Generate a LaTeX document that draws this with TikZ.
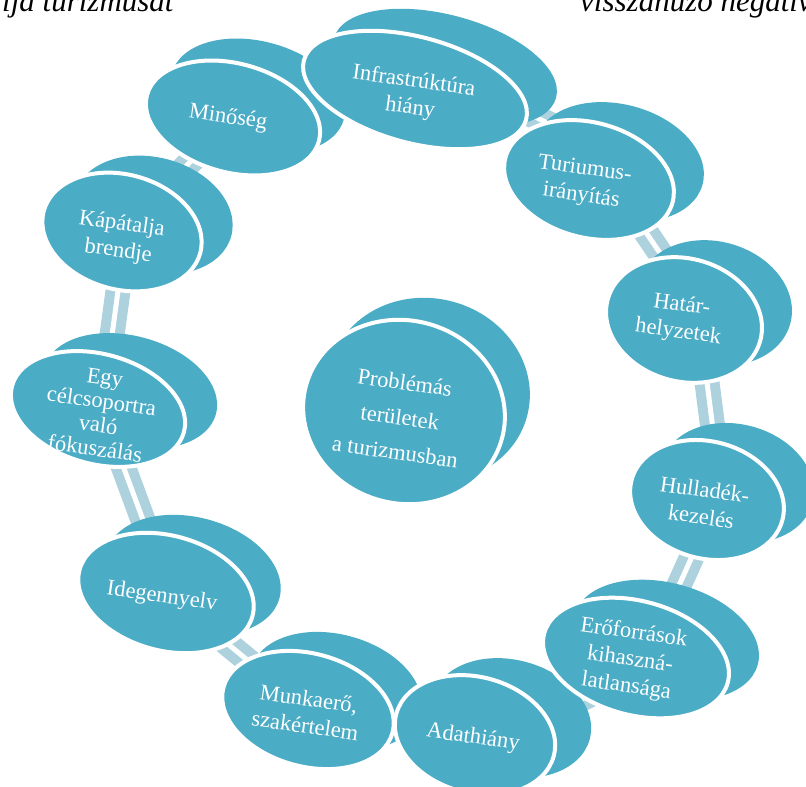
\documentclass[tikz,border=0pt]{standalone}
\usepackage{fontspec}
\setmainfont{Liberation Serif}
\usetikzlibrary{shapes.geometric,calc}
\definecolor{aqua}{RGB}{75,172,198}
\definecolor{conn}{RGB}{173,210,222}
\begin{document}
\begin{tikzpicture}[x=1pt,y=-1pt,
  face/.style={ellipse, fill=aqua, inner sep=0pt, outer sep=0pt, rotate=-15},
  front/.style={face, draw=white, line width=4pt},
  back/.style={face},
  lbl/.style={text=white, align=center, rotate=-8, font=\fontsize{22.5}{27}\selectfont, inner sep=0pt},
  link/.style={draw=conn, line width=10pt, double=white, double distance=5pt},
  toptext/.style={font=\fontsize{31}{36}\selectfont\itshape, inner sep=0pt}
]
\useasboundingbox (0,0) rectangle (806,787);
\clip (0,0) rectangle (806,787);

% centres of the front faces
\coordinate (c1) at (415,90);   % Infrastruktura
\coordinate (c2) at (589,180);  % Turiumus
\coordinate (c3) at (684,320);  % Hatar
\coordinate (c4) at (707,500);  % Hulladek
\coordinate (c5) at (636,658);  % Eroforrasok
\coordinate (c6) at (475,735);  % Adathiany
\coordinate (c7) at (308,710);  % Munkaero
\coordinate (c8) at (166,593);  % Idegennyelv
\coordinate (c9) at (98,409);   % Egy celcsoport
\coordinate (c10) at (122,232); % Kapatalja
\coordinate (c11) at (233,118); % Minoseg
\coordinate (c0) at (404,412);  % centre

% connectors
\draw[link] ($(c1)+(20,-25)$) -- ($(c2)+(20,-25)$);
\draw[link] ($(c2)+(16,-8)$) -- ($(c3)+(16,-8)$);
\draw[link] ($(c3)+(14,-8)$) -- ($(c4)+(14,-8)$);
\draw[link] ($(c4)+(14,-8)$) -- ($(c5)+(14,-8)$);
\draw[link] ($(c5)+(0,15)$) -- ($(c6)+(0,15)$);
\draw[link] (c6) -- (c7);
\draw[link] (c7) -- (c8);
\draw[link] ($(c8)+(4,0)$) -- ($(c9)+(4,0)$);
\draw[link] ($(c9)+(4,0)$) -- ($(c10)+(4,0)$);
\draw[link] (c10) -- (c11);
\draw[link] (c11) -- (c1);

% back faces
\node[back, minimum width=230, minimum height=106] (b1) at ($(c1)+(30,-22)$) {};
\node[back, minimum width=173, minimum height=115] (b2) at ($(c2)+(30,-18)$) {};
\node[back, minimum width=158, minimum height=123] (b3) at ($(c3)+(30,-17)$) {};
\node[back, minimum width=156, minimum height=117] (b4) at ($(c4)+(30,-17)$) {};
\node[back, minimum width=190, minimum height=114] (b5) at ($(c5)+(30,-18)$) {};
\node[back, minimum width=163, minimum height=116] (b6) at ($(c6)+(36,-17)$) {};
\node[back, minimum width=175, minimum height=113] (b7) at ($(c7)+(28,-19)$) {};
\node[back, minimum width=179, minimum height=115] (b8) at ($(c8)+(27,-18)$) {};
\node[back, minimum width=178, minimum height=110] (b9) at ($(c9)+(32,-18)$) {};
\node[back, minimum width=162, minimum height=115] (b10) at ($(c10)+(31,-17)$) {};
\node[back, minimum width=178, minimum height=109] (b11) at ($(c11)+(25,-22)$) {};
\node[back, minimum width=203, minimum height=183] (b0) at ($(c0)+(25,-22)$) {};

% front faces
\node[front, minimum width=230, minimum height=106] (f1) at (c1) {};
\node[front, minimum width=173, minimum height=115] (f2) at (c2) {};
\node[front, minimum width=158, minimum height=123] (f3) at (c3) {};
\node[front, minimum width=156, minimum height=117] (f4) at (c4) {};
\node[front, minimum width=190, minimum height=114] (f5) at (c5) {};
\node[front, minimum width=163, minimum height=116] (f6) at (c6) {};
\node[front, minimum width=175, minimum height=113] (f7) at (c7) {};
\node[front, minimum width=179, minimum height=115] (f8) at (c8) {};
\node[front, minimum width=178, minimum height=110] (f9) at (c9) {};
\node[front, minimum width=162, minimum height=115] (f10) at (c10) {};
\node[front, minimum width=178, minimum height=109] (f11) at (c11) {};
\node[front, minimum width=203, minimum height=183] (f0) at (c0) {};

% labels
\node[lbl] (t1) at (412,95) {Infrastrúktúra\\hiány};
\node[lbl] (t2) at (583,183) {Turiumus-\\irányítás};
\node[lbl] (t3) at (680,319) {Határ-\\helyzetek};
\node[lbl] (t4) at (703,503) {Hulladék-\\kezelés};
\node[lbl] (t5) at (630,660) {Erőforrások\\kihaszná-\\latlansága};
\node[lbl] (t6) at (473,738) {Adathiány};
\node[lbl] (t7) at (307,712) {Munkaerő,\\szakértelem};
\node[lbl] (t8) at (162,597) {Idegennyelv};
\node[lbl, font=\fontsize{22.5}{24}\selectfont] (t9) at (100,413) {Egy\\célcsoportra\\való\\fókuszálás};
\node[lbl] (t10) at (120,238) {Kápátalja\\brendje};
\node[lbl] (t11) at (228,118) {Minőség};
\node[lbl, font=\fontsize{22.5}{35}\selectfont] (t0) at (400,417) {Problémás\\területek\\a turizmusban};

% cut-off text at the top
\node[toptext, anchor=base west] (tl) at (2,11) {lja turizmusát};
\node[toptext, anchor=base west] (tr) at (580,11) {visszahúzó negatív};
\end{tikzpicture}
\end{document}
